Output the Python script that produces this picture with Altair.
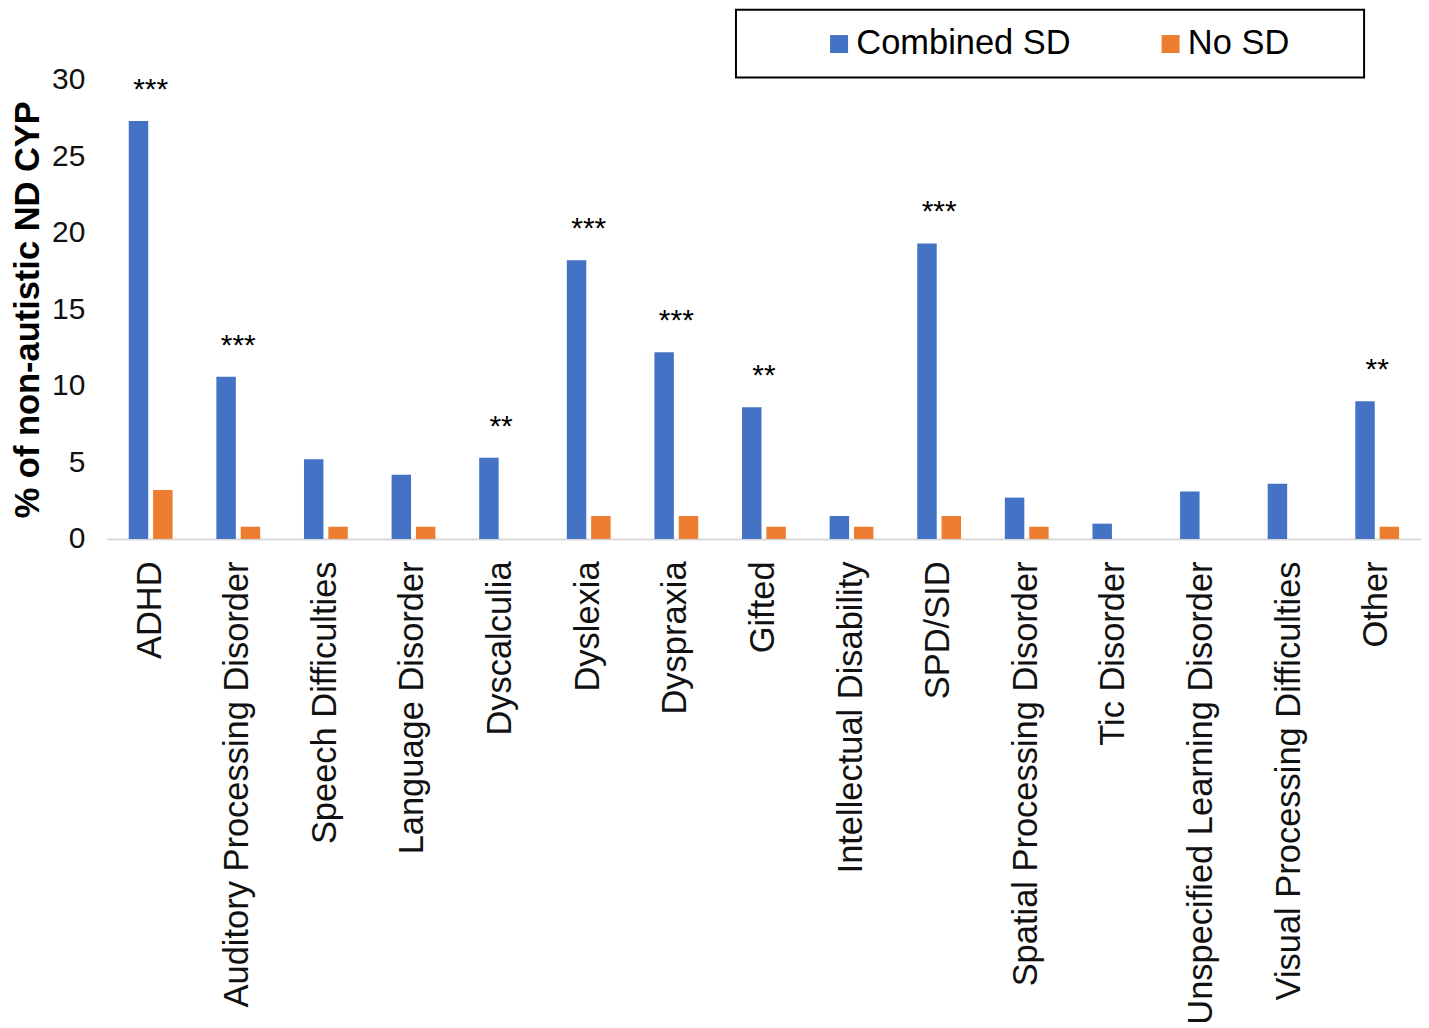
import altair as alt
import pandas as pd

categories = ["ADHD", "Auditory Processing Disorder", "Speech Difficulties",
              "Language Disorder", "Dyscalculia", "Dyslexia", "Dyspraxia",
              "Gifted", "Intellectual Disability", "SPD/SID",
              "Spatial Processing Disorder", "Tic Disorder",
              "Unspecified Learning Disorder", "Visual Processing Difficulties",
              "Other"]
combined_sd = [27.3, 10.6, 5.2, 4.2, 5.3, 18.2, 12.2, 8.6, 1.5, 19.3, 2.7, 1.0, 3.1, 3.6, 9.0]
no_sd = [3.2, 0.8, 0.8, 0.8, 0.0, 1.5, 1.5, 0.8, 0.8, 1.5, 0.8, 0.0, 0.0, 0.0, 0.8]
stars = ["***", "***", "", "", "**", "***", "***", "**", "", "***", "", "", "", "", "**"]
series_names = ["Combined SD", "No SD"]

rows = []
for c, a, b in zip(categories, combined_sd, no_sd):
    rows.append({"cat": c, "series": series_names[0], "value": a})
    rows.append({"cat": c, "series": series_names[1], "value": b})
df = pd.DataFrame(rows)
stars_df = pd.DataFrame({"cat": categories, "value": combined_sd, "stars": stars})

FONT = "Liberation Sans"

x_enc = alt.X("cat:N", sort=categories, title=None,
              scale=alt.Scale(paddingInner=0.5, paddingOuter=0.25),
              axis=alt.Axis(labelAngle=-90, labelFontSize=34.5, labelColor="#111111",
                            labelFont=FONT, labelPadding=22, labelLimit=700,
                            ticks=False, domainColor="#d9d9d9", domainWidth=2,
                            labelBaseline="middle", labelAlign="right"))
y_enc = alt.Y("value:Q", title="% of non-autistic ND CYP",
              scale=alt.Scale(domain=[0, 30]),
              axis=alt.Axis(values=[0, 5, 10, 15, 20, 25, 30], grid=False,
                            domain=False, ticks=False, labelFontSize=30,
                            labelColor="#111111", labelFont=FONT, labelPadding=22,
                            titleFont=FONT, titleFontSize=34.5, titleFontWeight="bold",
                            titleColor="#000000", titlePadding=6))

nb = "\u00a0" * 6 + "\u200b"
bars = alt.Chart(df).mark_bar().encode(
    x=x_enc,
    xOffset=alt.XOffset("series:N", sort=series_names,
                        scale=alt.Scale(paddingInner=0.2, paddingOuter=0)),
    y=y_enc,
    color=alt.Color("series:N", sort=series_names, title=None,
                    scale=alt.Scale(domain=series_names, range=["#4472C4", "#ED7D31"]),
                    legend=alt.Legend(orient="none", legendX=630, legendY=-70,
                                      direction="horizontal", symbolType="square",
                                      symbolSize=324, symbolStrokeWidth=0,
                                      labelFontSize=34.5, labelFont=FONT,
                                      labelColor="#000000", labelOffset=0,
                                      labelLimit=500,
                                      padding=17, columnPadding=13,
                                      strokeColor="#000000",
                                      symbolOffset=69,
                                      labelExpr="datum.label == 'No SD' ? 'No SD" + nb + "' : datum.label")),
)

text = alt.Chart(stars_df).mark_text(fontSize=30, font=FONT, color="#000000",
                                     baseline="alphabetic", dy=-22).encode(
    x=alt.X("cat:N", sort=categories),
    y=alt.Y("value:Q"),
    text="stars:N",
)

chart = alt.layer(bars, text).properties(
    width=1316, height=460, padding={"left": 2, "top": 0, "right": 0, "bottom": 0},
    background="white"
).configure_view(strokeWidth=0).configure_legend(strokeWidth=2)

chart.save("out.html", embed_options={"renderer": "svg", "actions": False})
